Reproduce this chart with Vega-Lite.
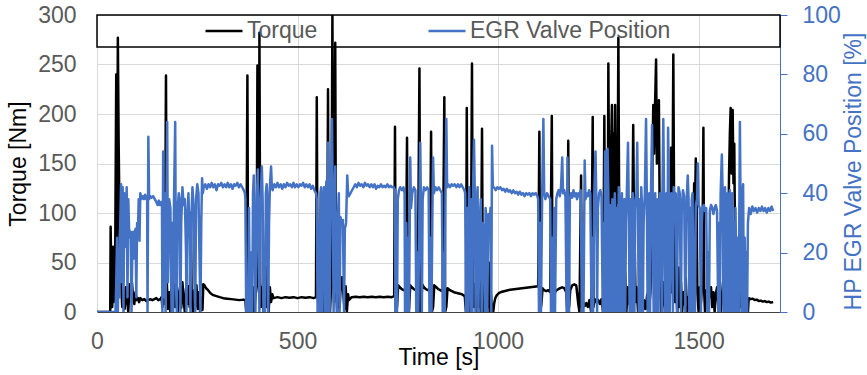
{
"$schema": "https://vega.github.io/schema/vega-lite/v6.json",
"width": 683, "height": 297,
"autosize": {"type": "none"},
"padding": {"left": 97, "top": 15, "right": 87, "bottom": 63},
"config": {"font": "Liberation Sans", "view": {"stroke": null}, "axis": {"labelFlush": false, "labelOverlap": false, "titleFontWeight": "normal"}},
"datasets": {
"torque": [
{"t":0,"v":0},{"t":32,"v":0},{"t":33,"v":0},{"t":34,"v":86},{"t":36,"v":20},{"t":38,"v":5},{"t":40,"v":66},{"t":42,"v":10},{"t":45,"v":30},{"t":48,"v":240},{"t":50,"v":60},{"t":52,"v":277},{"t":54,"v":170},{"t":56,"v":100},{"t":58,"v":40},{"t":60,"v":28},{"t":63,"v":5},{"t":66,"v":22},{"t":69,"v":3},{"t":72,"v":25},{"t":75,"v":12},{"t":78,"v":0},{"t":81,"v":28},{"t":84,"v":18},{"t":87,"v":30},{"t":90,"v":15},{"t":93,"v":8},{"t":96,"v":20},{"t":99,"v":12},{"t":102,"v":14},{"t":105,"v":10},{"t":108,"v":14},{"t":113,"v":12},{"t":118,"v":13},{"t":123,"v":11},{"t":128,"v":12},{"t":133,"v":13},{"t":138,"v":12},{"t":143,"v":13},{"t":148,"v":14},{"t":153,"v":12},{"t":158,"v":13},{"t":161,"v":15},
{"t":163,"v":5},{"t":166,"v":25},{"t":169,"v":8},{"t":172,"v":239},{"t":174,"v":30},{"t":177,"v":3},{"t":180,"v":20},{"t":183,"v":0},{"t":186,"v":27},{"t":189,"v":10},{"t":192,"v":28},{"t":195,"v":5},{"t":198,"v":22},{"t":201,"v":0},{"t":204,"v":18},{"t":207,"v":25},{"t":210,"v":4},{"t":213,"v":30},{"t":216,"v":12},{"t":219,"v":0},{"t":222,"v":24},{"t":225,"v":8},{"t":228,"v":26},{"t":231,"v":5},{"t":234,"v":100},{"t":236,"v":15},{"t":239,"v":0},{"t":242,"v":22},{"t":245,"v":6},{"t":248,"v":27},{"t":251,"v":3},{"t":254,"v":20},{"t":257,"v":0},{"t":260,"v":15},{"t":263,"v":2},
{"t":265,"v":28},{"t":268,"v":27},{"t":272,"v":24},{"t":277,"v":22},{"t":283,"v":19},{"t":290,"v":17},{"t":298,"v":16},{"t":306,"v":15},{"t":315,"v":14},{"t":325,"v":13.5},{"t":335,"v":13},{"t":345,"v":12.5},{"t":355,"v":12},{"t":365,"v":12.5},{"t":370,"v":12},
{"t":372,"v":0},{"t":375,"v":239},{"t":377,"v":10},{"t":380,"v":0},{"t":383,"v":20},{"t":386,"v":5},{"t":389,"v":25},{"t":392,"v":0},{"t":395,"v":15},{"t":398,"v":30},{"t":400,"v":249},{"t":402,"v":40},{"t":404,"v":20},{"t":405,"v":282},{"t":407,"v":30},{"t":409,"v":5},{"t":412,"v":25},{"t":415,"v":0},{"t":418,"v":20},{"t":421,"v":46},{"t":423,"v":5},{"t":426,"v":35},{"t":428,"v":0},{"t":431,"v":25},{"t":434,"v":10},{"t":437,"v":18},
{"t":440,"v":14},{"t":450,"v":15},{"t":460,"v":14},{"t":470,"v":15},{"t":480,"v":14.5},{"t":490,"v":15},{"t":500,"v":14},{"t":510,"v":15},{"t":520,"v":14.5},{"t":530,"v":15},{"t":540,"v":14},{"t":546,"v":15},
{"t":548,"v":217},{"t":550,"v":20},{"t":553,"v":0},{"t":556,"v":25},{"t":559,"v":5},{"t":562,"v":28},{"t":565,"v":0},{"t":568,"v":22},{"t":571,"v":8},{"t":574,"v":30},{"t":576,"v":225},{"t":578,"v":20},{"t":581,"v":0},{"t":584,"v":30},{"t":587,"v":300},{"t":589,"v":40},{"t":591,"v":10},{"t":594,"v":272},{"t":596,"v":30},{"t":599,"v":0},{"t":602,"v":24},{"t":605,"v":5},{"t":608,"v":28},{"t":611,"v":35},{"t":614,"v":20},{"t":617,"v":3},{"t":620,"v":26},{"t":623,"v":0},{"t":626,"v":18},
{"t":628,"v":12},{"t":635,"v":15},{"t":645,"v":15.5},{"t":655,"v":15},{"t":665,"v":15.5},{"t":675,"v":15},{"t":685,"v":15.5},{"t":695,"v":15},{"t":705,"v":15.5},{"t":715,"v":15},{"t":725,"v":15.5},{"t":735,"v":15},{"t":741,"v":16},
{"t":743,"v":187},{"t":745,"v":0},{"t":748,"v":5},{"t":751,"v":27},{"t":755,"v":25},{"t":760,"v":23},{"t":765,"v":22},{"t":770,"v":21},{"t":773,"v":176},{"t":775,"v":0},{"t":778,"v":3},{"t":781,"v":27},{"t":785,"v":25},{"t":790,"v":23},{"t":795,"v":22},{"t":800,"v":21},{"t":804,"v":246},{"t":806,"v":0},{"t":808,"v":5},{"t":811,"v":28},{"t":815,"v":25},{"t":820,"v":23},{"t":825,"v":22},{"t":830,"v":21},{"t":833,"v":182},{"t":835,"v":0},{"t":838,"v":5},{"t":841,"v":27},{"t":846,"v":25},{"t":851,"v":23},{"t":856,"v":22},{"t":862,"v":21},{"t":866,"v":217},{"t":868,"v":0},{"t":871,"v":5},{"t":874,"v":24},{"t":880,"v":22},{"t":890,"v":20},{"t":900,"v":19},{"t":910,"v":18},{"t":917,"v":16},
{"t":920,"v":0},{"t":922,"v":206},{"t":924,"v":10},{"t":927,"v":25},{"t":930,"v":0},{"t":932,"v":20},{"t":935,"v":251},{"t":937,"v":40},{"t":939,"v":5},{"t":942,"v":28},{"t":945,"v":0},{"t":948,"v":22},{"t":951,"v":5},{"t":954,"v":30},{"t":957,"v":0},{"t":960,"v":185},{"t":962,"v":20},{"t":964,"v":0},{"t":967,"v":25},{"t":970,"v":10},{"t":972,"v":86},{"t":974,"v":5},{"t":977,"v":50},{"t":979,"v":0},{"t":982,"v":20},{"t":985,"v":0},{"t":988,"v":0},
{"t":990,"v":8},{"t":993,"v":14},{"t":997,"v":17},{"t":1002,"v":19},{"t":1010,"v":20.5},{"t":1020,"v":21.5},{"t":1030,"v":22.5},{"t":1040,"v":23},{"t":1050,"v":23.5},{"t":1060,"v":24},{"t":1070,"v":24.5},{"t":1080,"v":25},{"t":1090,"v":25.5},{"t":1100,"v":26},
{"t":1103,"v":182},{"t":1105,"v":0},{"t":1108,"v":8},{"t":1111,"v":24},{"t":1115,"v":22},{"t":1120,"v":21},{"t":1125,"v":22},{"t":1130,"v":20},{"t":1134,"v":198},{"t":1136,"v":0},{"t":1139,"v":10},{"t":1142,"v":20},{"t":1146,"v":22},{"t":1150,"v":23},{"t":1155,"v":24},{"t":1160,"v":25},{"t":1165,"v":24},{"t":1170,"v":20},{"t":1173,"v":0},{"t":1175,"v":173},{"t":1177,"v":5},{"t":1180,"v":22},{"t":1185,"v":27},{"t":1190,"v":28},{"t":1195,"v":27},
{"t":1200,"v":8},{"t":1203,"v":0},{"t":1207,"v":138},{"t":1209,"v":5},{"t":1212,"v":10},{"t":1216,"v":6},{"t":1220,"v":9},{"t":1224,"v":5},{"t":1228,"v":12},{"t":1232,"v":0},{"t":1236,"v":197},{"t":1238,"v":5},{"t":1241,"v":13},{"t":1245,"v":10},{"t":1250,"v":12},{"t":1254,"v":8},{"t":1258,"v":13},{"t":1262,"v":0},{"t":1265,"v":198},{"t":1267,"v":20},{"t":1270,"v":60},{"t":1273,"v":0},{"t":1275,"v":251},{"t":1277,"v":120},{"t":1279,"v":50},{"t":1281,"v":150},{"t":1284,"v":209},{"t":1286,"v":100},{"t":1288,"v":180},{"t":1290,"v":120},{"t":1292,"v":209},{"t":1294,"v":90},{"t":1296,"v":150},{"t":1298,"v":110},{"t":1300,"v":277},{"t":1302,"v":100},{"t":1304,"v":30},{"t":1306,"v":0},
{"t":1309,"v":20},{"t":1312,"v":65},{"t":1314,"v":5},{"t":1317,"v":40},{"t":1320,"v":0},{"t":1323,"v":25},{"t":1326,"v":8},{"t":1330,"v":30},{"t":1333,"v":0},{"t":1337,"v":189},{"t":1339,"v":85},{"t":1341,"v":60},{"t":1343,"v":10},{"t":1346,"v":25},{"t":1349,"v":0},{"t":1352,"v":20},{"t":1355,"v":5},{"t":1358,"v":15},{"t":1361,"v":0},{"t":1364,"v":12},{"t":1368,"v":3},{"t":1372,"v":18},{"t":1376,"v":0},{"t":1380,"v":20},{"t":1383,"v":60},{"t":1385,"v":150},{"t":1387,"v":209},{"t":1389,"v":160},{"t":1391,"v":200},{"t":1394,"v":255},{"t":1396,"v":150},{"t":1398,"v":190},{"t":1401,"v":214},{"t":1403,"v":100},{"t":1405,"v":30},{"t":1407,"v":0},
{"t":1410,"v":10},{"t":1413,"v":30},{"t":1416,"v":0},{"t":1420,"v":25},{"t":1424,"v":5},{"t":1428,"v":20},{"t":1431,"v":166},{"t":1433,"v":20},{"t":1435,"v":120},{"t":1437,"v":260},{"t":1439,"v":100},{"t":1441,"v":10},{"t":1444,"v":30},{"t":1447,"v":0},{"t":1450,"v":45},{"t":1453,"v":5},{"t":1456,"v":30},{"t":1459,"v":0},{"t":1462,"v":20},{"t":1465,"v":8},{"t":1468,"v":35},{"t":1471,"v":0},{"t":1474,"v":15},{"t":1477,"v":3},{"t":1480,"v":25},{"t":1483,"v":0},{"t":1486,"v":40},{"t":1489,"v":130},{"t":1491,"v":100},{"t":1493,"v":155},{"t":1495,"v":110},{"t":1497,"v":20},{"t":1500,"v":0},{"t":1503,"v":25},{"t":1506,"v":10},{"t":1509,"v":30},{"t":1512,"v":186},{"t":1514,"v":20},{"t":1516,"v":0},
{"t":1519,"v":22},{"t":1522,"v":10},{"t":1525,"v":28},{"t":1528,"v":15},{"t":1531,"v":25},{"t":1534,"v":5},{"t":1537,"v":20},{"t":1540,"v":0},{"t":1543,"v":18},{"t":1546,"v":25},{"t":1549,"v":8},{"t":1552,"v":22},{"t":1555,"v":0},{"t":1558,"v":15},{"t":1561,"v":30},{"t":1564,"v":5},{"t":1567,"v":20},{"t":1570,"v":0},{"t":1573,"v":40},{"t":1576,"v":140},{"t":1578,"v":180},{"t":1580,"v":206},{"t":1582,"v":140},{"t":1585,"v":204},{"t":1587,"v":130},{"t":1589,"v":170},{"t":1591,"v":60},{"t":1593,"v":5},{"t":1596,"v":25},{"t":1599,"v":0},{"t":1602,"v":18},{"t":1605,"v":5},{"t":1608,"v":20},{"t":1611,"v":0},{"t":1614,"v":12},{"t":1617,"v":0},{"t":1620,"v":5},{"t":1623,"v":0},
{"t":1625,"v":14},{"t":1630,"v":13},{"t":1635,"v":13.5},{"t":1640,"v":12},{"t":1645,"v":12.5},{"t":1650,"v":11},{"t":1655,"v":11.5},{"t":1660,"v":10.5},{"t":1665,"v":11},{"t":1670,"v":10},{"t":1675,"v":10.5},{"t":1680,"v":9.5},{"t":1686,"v":10}
],
"egr": [
{"t":0,"v":0},{"t":44,"v":0},{"t":46,"v":0},{"t":48,"v":10},{"t":50,"v":25},{"t":52,"v":0},{"t":54,"v":20},{"t":56,"v":5},{"t":58,"v":30},{"t":60,"v":43},{"t":62,"v":10},{"t":64,"v":42},{"t":66,"v":0},{"t":68,"v":40},{"t":70,"v":30},{"t":72,"v":22},{"t":74,"v":42},{"t":76,"v":5},{"t":78,"v":38},{"t":80,"v":28},{"t":82,"v":25},{"t":84,"v":27},{"t":86,"v":0},{"t":88,"v":20},{"t":90,"v":27},{"t":92,"v":18},{"t":94,"v":26},{"t":96,"v":28},{"t":98,"v":5},{"t":100,"v":30},{"t":102,"v":26},{"t":104,"v":38},{"t":106,"v":24},
{"t":108,"v":40},{"t":111,"v":38},{"t":114,"v":39},{"t":117,"v":38},{"t":120,"v":39.5},{"t":123,"v":38},{"t":125,"v":39},{"t":126,"v":0},{"t":128,"v":59},{"t":130,"v":38},{"t":133,"v":39},{"t":136,"v":38.5},{"t":140,"v":39},{"t":144,"v":38},{"t":148,"v":37},{"t":151,"v":36},{"t":154,"v":37.5},{"t":157,"v":36},{"t":160,"v":37},{"t":162,"v":37},
{"t":163,"v":0},{"t":165,"v":54},{"t":167,"v":5},{"t":169,"v":40},{"t":171,"v":0},{"t":173,"v":30},{"t":175,"v":64},{"t":177,"v":10},{"t":180,"v":38},{"t":183,"v":35},{"t":186,"v":0},{"t":188,"v":30},{"t":190,"v":0},{"t":192,"v":38},{"t":195,"v":64},{"t":197,"v":8},{"t":199,"v":0},{"t":201,"v":35},{"t":204,"v":40},{"t":206,"v":38},{"t":208,"v":0},{"t":210,"v":30},{"t":213,"v":42},{"t":216,"v":36},{"t":219,"v":38},{"t":222,"v":20},{"t":223,"v":0},{"t":225,"v":32},{"t":228,"v":40},{"t":231,"v":25},{"t":233,"v":0},{"t":235,"v":30},{"t":238,"v":42},{"t":241,"v":35},{"t":243,"v":10},{"t":245,"v":0},{"t":247,"v":38},{"t":250,"v":43},{"t":253,"v":40},{"t":256,"v":15},{"t":258,"v":0},{"t":260,"v":30},{"t":262,"v":45},{"t":264,"v":40},
{"t":266,"v":42},{"t":270,"v":43},{"t":274,"v":41.5},{"t":278,"v":43},{"t":282,"v":42},{"t":286,"v":43.5},{"t":290,"v":42},{"t":294,"v":43},{"t":298,"v":41},{"t":302,"v":43},{"t":306,"v":42.5},{"t":310,"v":43.5},{"t":314,"v":42},{"t":318,"v":43},{"t":322,"v":42},{"t":326,"v":43.5},{"t":330,"v":42},{"t":334,"v":43},{"t":338,"v":41.5},{"t":342,"v":43},{"t":346,"v":42.5},{"t":350,"v":43.5},{"t":354,"v":42},{"t":358,"v":43},{"t":362,"v":42},{"t":366,"v":41},{"t":369,"v":40},
{"t":370,"v":38},{"t":372,"v":0},{"t":375,"v":10},{"t":377,"v":0},{"t":379,"v":35},{"t":381,"v":0},{"t":384,"v":20},{"t":387,"v":0},{"t":389,"v":40},{"t":391,"v":46},{"t":393,"v":30},{"t":395,"v":0},{"t":397,"v":25},{"t":399,"v":40},{"t":401,"v":48},{"t":403,"v":20},{"t":405,"v":0},{"t":407,"v":35},{"t":409,"v":42},{"t":411,"v":49},{"t":413,"v":38},{"t":415,"v":0},{"t":417,"v":10},{"t":419,"v":0},{"t":421,"v":40},{"t":423,"v":43},{"t":425,"v":38},{"t":427,"v":0},{"t":429,"v":30},{"t":431,"v":42},{"t":434,"v":49},{"t":436,"v":42},
{"t":438,"v":41},{"t":442,"v":43},{"t":446,"v":42},{"t":450,"v":43.5},{"t":454,"v":42},{"t":458,"v":43},{"t":462,"v":41.5},{"t":466,"v":43},{"t":470,"v":42},{"t":474,"v":43.5},{"t":478,"v":42.5},{"t":482,"v":43},{"t":486,"v":42},{"t":490,"v":43.5},{"t":494,"v":42},{"t":498,"v":43},{"t":502,"v":42},{"t":506,"v":43},{"t":510,"v":42.5},{"t":514,"v":43.5},{"t":518,"v":42},{"t":522,"v":43},{"t":526,"v":42},{"t":530,"v":43},{"t":534,"v":41.5},{"t":538,"v":42.5},{"t":542,"v":41},{"t":546,"v":40},
{"t":548,"v":38},{"t":550,"v":0},{"t":553,"v":30},{"t":555,"v":0},{"t":557,"v":40},{"t":559,"v":42},{"t":561,"v":0},{"t":563,"v":35},{"t":566,"v":42},{"t":568,"v":0},{"t":570,"v":40},{"t":572,"v":44},{"t":574,"v":0},{"t":576,"v":57},{"t":578,"v":40},{"t":580,"v":0},{"t":582,"v":38},{"t":584,"v":45},{"t":586,"v":65},{"t":588,"v":30},{"t":590,"v":0},{"t":592,"v":35},{"t":594,"v":49},{"t":596,"v":10},{"t":598,"v":0},{"t":600,"v":30},{"t":603,"v":40},{"t":605,"v":0},{"t":607,"v":32},{"t":610,"v":30},{"t":613,"v":31},{"t":616,"v":0},{"t":618,"v":28},{"t":621,"v":30},{"t":624,"v":46},{"t":626,"v":40},
{"t":628,"v":39},{"t":632,"v":40},{"t":636,"v":41},{"t":640,"v":42},{"t":644,"v":43},{"t":648,"v":42},{"t":652,"v":43.5},{"t":656,"v":42.5},{"t":660,"v":43},{"t":664,"v":42},{"t":668,"v":43.5},{"t":672,"v":42.5},{"t":676,"v":43},{"t":680,"v":42},{"t":684,"v":43},{"t":688,"v":42},{"t":692,"v":43},{"t":696,"v":41.5},{"t":700,"v":42.5},{"t":704,"v":42},{"t":708,"v":43},{"t":712,"v":42},{"t":716,"v":42.5},{"t":720,"v":42},{"t":724,"v":43},{"t":728,"v":42},{"t":732,"v":42.5},{"t":736,"v":42},{"t":740,"v":42},
{"t":743,"v":41},{"t":744,"v":0},{"t":746,"v":20},{"t":748,"v":0},{"t":750,"v":38},{"t":753,"v":41},{"t":756,"v":42},{"t":760,"v":41},{"t":764,"v":42},{"t":767,"v":40},{"t":768,"v":0},{"t":771,"v":30},{"t":773,"v":0},{"t":776,"v":25},{"t":778,"v":0},{"t":781,"v":52},{"t":783,"v":35},{"t":786,"v":40},{"t":790,"v":42},{"t":794,"v":41},{"t":796,"v":0},{"t":799,"v":20},{"t":801,"v":0},{"t":804,"v":35},{"t":806,"v":57},{"t":808,"v":30},{"t":810,"v":0},{"t":812,"v":38},{"t":815,"v":42},{"t":819,"v":41},{"t":823,"v":42},{"t":827,"v":41},{"t":829,"v":0},{"t":832,"v":25},{"t":834,"v":0},{"t":836,"v":30},{"t":838,"v":52},{"t":840,"v":40},{"t":844,"v":42},{"t":848,"v":41},{"t":852,"v":42},{"t":856,"v":41},
{"t":860,"v":40},{"t":862,"v":0},{"t":865,"v":20},{"t":867,"v":0},{"t":869,"v":40},{"t":871,"v":65},{"t":873,"v":42},{"t":876,"v":43},{"t":880,"v":42},{"t":884,"v":43},{"t":888,"v":42.5},{"t":892,"v":43},{"t":896,"v":42},{"t":900,"v":43},{"t":904,"v":42},{"t":908,"v":43},{"t":912,"v":42},{"t":916,"v":41},
{"t":918,"v":40},{"t":920,"v":0},{"t":923,"v":35},{"t":925,"v":0},{"t":928,"v":42},{"t":930,"v":20},{"t":932,"v":0},{"t":934,"v":38},{"t":936,"v":0},{"t":938,"v":45},{"t":940,"v":58},{"t":942,"v":40},{"t":944,"v":0},{"t":946,"v":35},{"t":949,"v":42},{"t":951,"v":0},{"t":954,"v":30},{"t":957,"v":38},{"t":959,"v":0},{"t":962,"v":30},{"t":965,"v":25},{"t":967,"v":0},{"t":969,"v":35},{"t":971,"v":28},{"t":973,"v":0},{"t":976,"v":33},{"t":979,"v":26},{"t":981,"v":35},{"t":983,"v":0},{"t":985,"v":56},{"t":987,"v":42},
{"t":990,"v":42},{"t":994,"v":41},{"t":998,"v":42},{"t":1002,"v":41.5},{"t":1006,"v":42},{"t":1010,"v":41},{"t":1014,"v":41.5},{"t":1018,"v":40.5},{"t":1022,"v":41.5},{"t":1026,"v":40.5},{"t":1030,"v":41},{"t":1034,"v":40},{"t":1038,"v":41},{"t":1042,"v":40},{"t":1046,"v":40.5},{"t":1050,"v":39.5},{"t":1054,"v":40.5},{"t":1058,"v":39.5},{"t":1062,"v":40},{"t":1066,"v":39},{"t":1070,"v":40},{"t":1074,"v":39.5},{"t":1078,"v":40},{"t":1082,"v":39},{"t":1086,"v":40},{"t":1090,"v":39.5},{"t":1094,"v":40},{"t":1098,"v":39},
{"t":1100,"v":38},{"t":1102,"v":0},{"t":1105,"v":30},{"t":1107,"v":0},{"t":1110,"v":40},{"t":1113,"v":65},{"t":1115,"v":40},{"t":1118,"v":38},{"t":1122,"v":40},{"t":1126,"v":39},{"t":1130,"v":38},{"t":1132,"v":0},{"t":1135,"v":25},{"t":1137,"v":0},{"t":1140,"v":35},{"t":1142,"v":0},{"t":1145,"v":38},{"t":1148,"v":40},{"t":1151,"v":41},{"t":1154,"v":39},{"t":1157,"v":42},{"t":1160,"v":52},{"t":1162,"v":40},{"t":1165,"v":41},{"t":1168,"v":39},
{"t":1171,"v":0},{"t":1173,"v":52},{"t":1175,"v":20},{"t":1177,"v":0},{"t":1179,"v":38},{"t":1182,"v":40},{"t":1185,"v":38.5},{"t":1188,"v":41},{"t":1191,"v":39},{"t":1194,"v":40},{"t":1197,"v":38},{"t":1200,"v":40},{"t":1203,"v":39},{"t":1206,"v":41},{"t":1209,"v":0},{"t":1211,"v":30},{"t":1213,"v":0},{"t":1216,"v":51},{"t":1218,"v":38},{"t":1221,"v":40},{"t":1224,"v":39},{"t":1227,"v":41},{"t":1230,"v":40},{"t":1233,"v":0},{"t":1235,"v":25},{"t":1237,"v":0},{"t":1240,"v":40},{"t":1243,"v":54},{"t":1245,"v":38},{"t":1247,"v":0},{"t":1249,"v":35},{"t":1252,"v":40},{"t":1255,"v":41},{"t":1258,"v":39},{"t":1261,"v":0},{"t":1263,"v":30},{"t":1265,"v":0},{"t":1267,"v":54},{"t":1269,"v":38},{"t":1271,"v":0},{"t":1273,"v":55},{"t":1275,"v":40},{"t":1277,"v":0},{"t":1279,"v":36},{"t":1281,"v":20},{"t":1283,"v":0},{"t":1285,"v":38},{"t":1287,"v":15},{"t":1289,"v":0},{"t":1291,"v":40},{"t":1293,"v":30},{"t":1295,"v":0},{"t":1297,"v":35},{"t":1299,"v":0},
{"t":1301,"v":42},{"t":1303,"v":38},{"t":1305,"v":0},{"t":1307,"v":25},{"t":1309,"v":40},{"t":1311,"v":0},{"t":1313,"v":35},{"t":1315,"v":38},{"t":1317,"v":0},{"t":1319,"v":30},{"t":1321,"v":40},{"t":1324,"v":57},{"t":1326,"v":35},{"t":1328,"v":0},{"t":1330,"v":38},{"t":1332,"v":20},{"t":1334,"v":0},{"t":1336,"v":40},{"t":1338,"v":36},{"t":1340,"v":0},{"t":1342,"v":35},{"t":1345,"v":40},{"t":1347,"v":57},{"t":1349,"v":30},{"t":1351,"v":0},{"t":1353,"v":38},{"t":1355,"v":0},{"t":1357,"v":42},{"t":1359,"v":36},{"t":1361,"v":0},{"t":1363,"v":30},{"t":1366,"v":40},{"t":1369,"v":65},{"t":1371,"v":38},{"t":1373,"v":0},{"t":1375,"v":35},{"t":1377,"v":40},{"t":1379,"v":0},{"t":1381,"v":38},{"t":1384,"v":63},{"t":1386,"v":30},{"t":1388,"v":0},{"t":1390,"v":35},{"t":1392,"v":40},{"t":1394,"v":0},{"t":1396,"v":30},{"t":1398,"v":38},{"t":1400,"v":0},
{"t":1402,"v":20},{"t":1404,"v":40},{"t":1406,"v":36},{"t":1408,"v":0},{"t":1410,"v":40},{"t":1412,"v":65},{"t":1414,"v":38},{"t":1416,"v":0},{"t":1418,"v":30},{"t":1420,"v":40},{"t":1422,"v":0},{"t":1424,"v":62},{"t":1426,"v":38},{"t":1428,"v":0},{"t":1430,"v":35},{"t":1432,"v":40},{"t":1434,"v":20},{"t":1436,"v":0},{"t":1438,"v":42},{"t":1440,"v":38},{"t":1443,"v":40},{"t":1446,"v":0},{"t":1448,"v":30},{"t":1450,"v":42},{"t":1453,"v":40},{"t":1456,"v":0},{"t":1458,"v":35},{"t":1461,"v":41},{"t":1464,"v":39},{"t":1467,"v":0},{"t":1469,"v":30},{"t":1471,"v":40},{"t":1473,"v":46},{"t":1475,"v":38},{"t":1477,"v":0},{"t":1479,"v":35},{"t":1481,"v":0},{"t":1483,"v":38},{"t":1485,"v":40},{"t":1487,"v":0},{"t":1489,"v":25},{"t":1491,"v":0},{"t":1493,"v":36},{"t":1496,"v":38},{"t":1498,"v":50},{"t":1500,"v":36},
{"t":1503,"v":35},{"t":1506,"v":0},{"t":1508,"v":30},{"t":1510,"v":35},{"t":1513,"v":36},{"t":1516,"v":34},{"t":1519,"v":35},{"t":1522,"v":0},{"t":1524,"v":20},{"t":1526,"v":0},{"t":1528,"v":34},{"t":1531,"v":36},{"t":1534,"v":35},{"t":1537,"v":33},{"t":1540,"v":35},{"t":1543,"v":36},{"t":1546,"v":34},{"t":1549,"v":0},{"t":1551,"v":30},{"t":1553,"v":0},{"t":1555,"v":40},{"t":1558,"v":53},{"t":1560,"v":40},{"t":1562,"v":0},{"t":1564,"v":35},{"t":1566,"v":42},{"t":1568,"v":0},{"t":1570,"v":38},{"t":1572,"v":40},{"t":1574,"v":0},{"t":1576,"v":36},{"t":1578,"v":41},{"t":1580,"v":0},{"t":1582,"v":38},{"t":1584,"v":40},{"t":1586,"v":0},{"t":1588,"v":30},{"t":1590,"v":0},{"t":1592,"v":35},{"t":1594,"v":15},{"t":1596,"v":0},{"t":1598,"v":25},{"t":1600,"v":0},{"t":1603,"v":64},{"t":1605,"v":30},{"t":1607,"v":0},{"t":1609,"v":38},{"t":1611,"v":43},{"t":1613,"v":0},{"t":1615,"v":25},{"t":1617,"v":0},{"t":1619,"v":20},{"t":1621,"v":0},{"t":1623,"v":30},
{"t":1626,"v":35},{"t":1630,"v":33},{"t":1634,"v":35.5},{"t":1638,"v":34},{"t":1642,"v":35},{"t":1646,"v":33.5},{"t":1650,"v":35},{"t":1654,"v":34},{"t":1658,"v":35.5},{"t":1662,"v":34},{"t":1666,"v":35},{"t":1670,"v":33.5},{"t":1674,"v":35},{"t":1678,"v":34},{"t":1682,"v":35.5},{"t":1686,"v":34}
]
},
"layer": [
{"layer": [
{"data": {"name": "torque"},
 "mark": {"type": "line", "strokeWidth": 2.5, "strokeJoin": "round", "clip": true},
 "encoding": {
  "x": {"field": "t", "type": "quantitative", "scale": {"domain": [0, 1703], "nice": false, "zero": false},
        "axis": {"title": "Time [s]", "values": [0, 500, 1000, 1500], "format": "d", "labelFontSize": 23, "labelColor": "#595959", "titleFontSize": 23, "titleColor": "#000000", "ticks": false, "tickSize": 0, "labelPadding": 18, "titlePadding": -7, "domainColor": "#404040", "domainWidth": 1, "grid": true, "gridColor": "#D9D9D9"}},
  "y": {"field": "v", "type": "quantitative", "scale": {"domain": [0, 300], "nice": false},
        "axis": {"title": "Torque [Nm]", "values": [0, 50, 100, 150, 200, 250, 300], "format": "d", "labelFontSize": 23, "labelColor": "#595959", "titleFontSize": 23, "titleColor": "#000000", "ticks": false, "tickSize": 0, "labelPadding": 21, "titlePadding": 7, "domain": false, "grid": true, "gridColor": "#D9D9D9"}},
  "color": {"datum": "Torque", "type": "nominal",
        "scale": {"domain": ["Torque", "EGR Valve Position"], "range": ["#000000", "#4472C4"]},
        "legend": {"title": null, "orient": "none", "legendX": 107, "legendY": -4, "direction": "horizontal", "columns": 2, "columnPadding": 105, "padding": 0, "symbolType": "stroke", "symbolSize": 1369, "symbolStrokeWidth": 2.5, "labelFontSize": 23, "labelColor": "#595959", "labelOffset": 3, "labelLimit": 400}}
 }},
{"data": {"values": [{}]},
 "mark": {"type": "rect", "fill": "transparent", "stroke": "#000000", "strokeWidth": 1.5},
 "encoding": {
  "x": {"datum": 0, "type": "quantitative"},
  "x2": {"datum": 1703},
  "y": {"datum": 300, "type": "quantitative"},
  "y2": {"datum": 267.7}
 }}
]},
{"data": {"name": "egr"},
 "mark": {"type": "line", "strokeWidth": 2.5, "strokeJoin": "round", "clip": true},
 "encoding": {
  "x": {"field": "t", "type": "quantitative"},
  "y": {"field": "v", "type": "quantitative", "scale": {"domain": [0, 100], "nice": false},
        "axis": {"orient": "right", "title": "HP EGR Valve Position [%]", "values": [0, 20, 40, 60, 80, 100], "format": "d", "labelFontSize": 23, "labelColor": "#4472C4", "titleFontSize": 23, "titleColor": "#4472C4", "tickColor": "#4472C4", "tickSize": 7, "labelPadding": 15, "domainColor": "#4472C4", "domainWidth": 1, "grid": false, "titleAngle": 270, "titleBaseline": "top", "titlePadding": 2, "titleY": 156}},
  "color": {"datum": "EGR Valve Position", "type": "nominal"}
 }}
],
"resolve": {"scale": {"y": "independent"}, "axis": {"y": "independent"}}
}
